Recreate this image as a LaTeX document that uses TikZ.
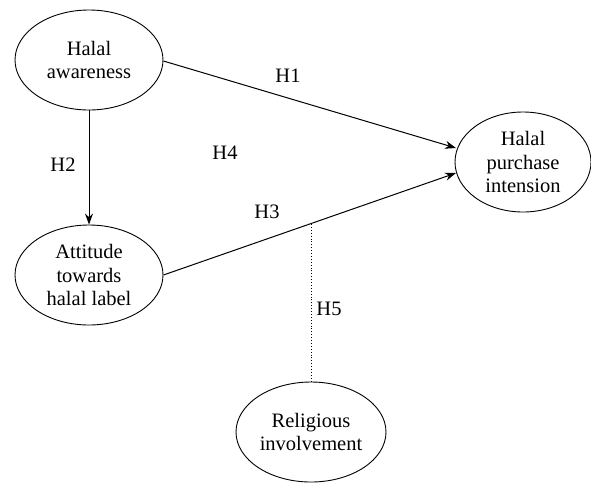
\documentclass[tikz,border=0pt]{standalone}
\usepackage{fontspec}
\setmainfont{Liberation Serif}
\usetikzlibrary{shapes.geometric,arrows.meta}
\begin{document}
\begin{tikzpicture}[x=1pt,y=-1pt,
  construct/.style={draw,ellipse,line width=0.9pt,minimum width=148pt,minimum height=100pt,inner sep=0pt,align=center,
    font=\fontsize{20.5}{23.5}\selectfont},
  link/.style={line width=1pt,-{Stealth[length=11pt,width=8pt]}},
  hlabel/.style={font=\fontsize{20.5}{23.5}\selectfont}]
\useasboundingbox (0,0) rectangle (591,483);
\node[construct] (aw) at (89,60) {Halal\\awareness};
\node[construct] (at) at (89,275) {Attitude\\towards\\halal label};
\node[construct,minimum width=136pt] (pi) at (523,162) {Halal\\purchase\\intension};
\node[construct,minimum width=150pt] (ri) at (311,432) {Religious\\involvement};
\coordinate (t1) at (456,148);
\coordinate (t3) at (456,173);
\draw[link] (aw.east |- 0,61) ++(0,0) coordinate (s1) -- (t1);
\draw[link] (aw) -- (at);
\draw[link] (at.east) -- (t3);
\coordinate (m) at (311,223);
\draw[line width=0.9pt,dotted] (ri.north) -- (m);
\node[hlabel] (h1) at (288,76) {H1};
\node[hlabel] (h2) at (63,165) {H2};
\node[hlabel] (h4) at (225,153) {H4};
\node[hlabel] (h3) at (267,212) {H3};
\node[hlabel] (h5) at (329,309) {H5};
\end{tikzpicture}
\end{document}
